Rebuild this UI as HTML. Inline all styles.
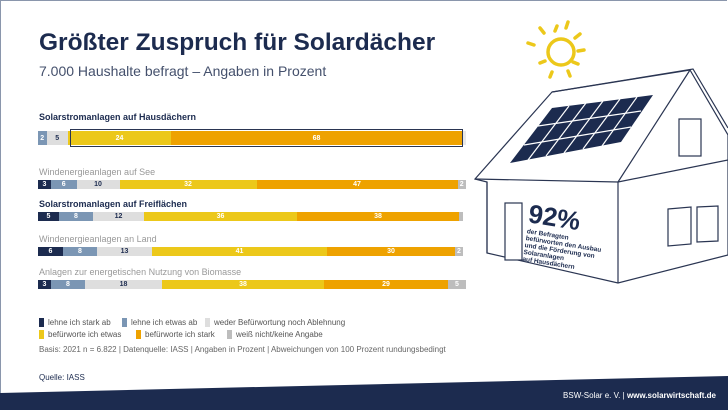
<!DOCTYPE html>
<html><head><meta charset="utf-8"><style>
body{margin:0;width:728px;height:410px;overflow:hidden;background:#fff;font-family:"Liberation Sans",sans-serif;}
.wrap{position:relative;width:728px;height:410px;}
.t{position:absolute;white-space:nowrap;}
.bar{position:absolute;left:38px;width:428px;display:flex;}
.bar div{height:100%;color:#fff;font-size:7px;font-weight:bold;display:flex;align-items:center;justify-content:center;}
.n{background:#1c2b4f}.s{background:#7b96b4}.g{background:#dedede;color:#1c2b4f!important}.y{background:#ecc81a}.o{background:#eea200}.k{background:#bdbdbd}
.lab{font-size:9px;color:#999;}
.lb{font-size:9px;color:#1c2b4f;font-weight:bold;}
.leg{font-size:8px;color:#555;display:flex;align-items:center;}
.leg i{display:inline-block;width:5px;height:9px;margin-right:4px;}
</style></head><body><div class="wrap">
<div style="position:absolute;left:0;top:0;width:727px;height:1px;background:#8a96ac"></div>
<div style="position:absolute;left:0;top:0;width:1px;height:400px;background:#8a96ac"></div>
<div class="t" style="left:39px;top:29px;font-size:24.5px;font-weight:bold;color:#1c2b4f">Größter Zuspruch für Solardächer</div>
<div class="t" style="left:39px;top:63px;font-size:14px;color:#44506c">7.000 Haushalte befragt – Angaben in Prozent</div>

<div class="t lb" style="left:39px;top:112px">Solarstromanlagen auf Hausdächern</div>
<div class="bar" style="top:131px;height:14px"><div class="s" style="width:8.5px">2</div><div class="g" style="width:21.5px">5</div><div class="y" style="width:103px">24</div><div class="o" style="width:291px">68</div><div style="width:4px;background:#e8e8e8"></div></div>
<div style="position:absolute;left:70px;top:129px;width:391px;height:16px;border:1px solid #2a3552"></div>

<div class="t lab" style="left:39px;top:167px">Windenergieanlagen auf See</div>
<div class="bar" style="top:180px;height:9px"><div class="n" style="width:13px">3</div><div class="s" style="width:25.5px">6</div><div class="g" style="width:43px">10</div><div class="y" style="width:137px">32</div><div class="o" style="width:201px">47</div><div class="k" style="width:8.5px">2</div></div>

<div class="t lb" style="left:39px;top:199px">Solarstromanlagen auf Freiflächen</div>
<div class="bar" style="top:212px;height:9px"><div class="n" style="width:21px">5</div><div class="s" style="width:34px">8</div><div class="g" style="width:51px">12</div><div class="y" style="width:153px">36</div><div class="o" style="width:162px">38</div><div class="k" style="width:4px"></div></div>

<div class="t lab" style="left:39px;top:234px">Windenergieanlagen an Land</div>
<div class="bar" style="top:247px;height:9px"><div class="n" style="width:25px">6</div><div class="s" style="width:34px">8</div><div class="g" style="width:55px">13</div><div class="y" style="width:175px">41</div><div class="o" style="width:128px">30</div><div class="k" style="width:8px">2</div></div>

<div class="t lab" style="left:39px;top:267px">Anlagen zur energetischen Nutzung von Biomasse</div>
<div class="bar" style="top:280px;height:9px"><div class="n" style="width:13px">3</div><div class="s" style="width:34px">8</div><div class="g" style="width:77px">18</div><div class="y" style="width:162px">38</div><div class="o" style="width:124px">29</div><div class="k" style="width:18px">5</div></div>

<div class="t leg" style="left:39px;top:318px"><i class="n"></i>lehne ich stark ab</div>
<div class="t leg" style="left:122px;top:318px"><i class="s"></i>lehne ich etwas ab</div>
<div class="t leg" style="left:205px;top:318px"><i class="g"></i>weder Befürwortung noch Ablehnung</div>
<div class="t leg" style="left:39px;top:330px"><i class="y"></i>befürworte ich etwas</div>
<div class="t leg" style="left:136px;top:330px"><i class="o"></i>befürworte ich stark</div>
<div class="t leg" style="left:227px;top:330px"><i class="k"></i>weiß nicht/keine Angabe</div>
<div class="t" style="left:39px;top:345px;font-size:8px;color:#666">Basis: 2021 n = 6.822 | Datenquelle: IASS | Angaben in Prozent | Abweichungen von 100 Prozent rundungsbedingt</div>
<div class="t" style="left:39px;top:373px;font-size:8px;color:#1c2b4f">Quelle: IASS</div>

<svg style="position:absolute;left:0;top:0" width="728" height="410">
<polygon points="0,393 728,376 728,410 0,410" fill="#1c2b4f"/>
<g stroke="#ecc81a" stroke-width="3.5" fill="none" stroke-linecap="round">
<circle cx="561" cy="52" r="13"/>
<line x1="557" y1="26" x2="555" y2="31"/><line x1="568" y1="22" x2="566" y2="28"/><line x1="580" y1="34" x2="575" y2="38"/><line x1="584" y1="50" x2="578" y2="51"/><line x1="578" y1="64" x2="573" y2="62"/><line x1="570" y1="76" x2="568" y2="71"/><line x1="550" y1="77" x2="552" y2="72"/><line x1="540" y1="63" x2="545" y2="61"/><line x1="528" y1="43" x2="534" y2="45"/><line x1="540" y1="28" x2="544" y2="33"/>
</g>
<g stroke="#2a3552" stroke-width="1.2" fill="#fff">
<polygon points="475,179 552,92 690,70 728,135 728,255 618,283 487,253 487,182"/>
<polyline fill="none" points="475,179 618,182 690,70"/>
<polyline fill="none" points="552,92 693,69 728,128"/>
<line x1="618" y1="182" x2="618" y2="283"/>
<line x1="487" y1="182" x2="487" y2="253"/>
<line x1="618" y1="182" x2="728" y2="160"/>
<rect x="505" y="203" width="17" height="57"/>
<rect x="679" y="119" width="22" height="37"/>
<polygon points="668,209 691,207 691,244 668,246"/>
<polygon points="697,207 718,206 718,241 697,242"/>
</g>
<polygon points="552,108 653,95 621,142 510,163" fill="#1c2b4f"/>
<g stroke="#fff" stroke-width="1.2">
<line x1="538" y1="126" x2="641" y2="111"/><line x1="524" y1="145" x2="631" y2="127"/>
<line x1="569" y1="106" x2="528" y2="160"/><line x1="586" y1="103" x2="546" y2="156"/><line x1="603" y1="101" x2="564" y2="153"/><line x1="620" y1="99" x2="583" y2="149"/><line x1="637" y1="97" x2="602" y2="146"/>
</g>
<g transform="rotate(9 528 205)" fill="#1c2b4f" font-family="Liberation Sans, sans-serif" font-weight="bold">
<text x="530" y="222" font-size="26">92%</text>
<text x="531" y="233" font-size="6.5">der Befragten</text>
<text x="531" y="240" font-size="6.5">befürworten den Ausbau</text>
<text x="531" y="247" font-size="6.5">und die Förderung von</text>
<text x="531" y="254" font-size="6.5">Solaranlagen</text>
<text x="531" y="261" font-size="6.5">auf Hausdächern</text>
</g>
<text x="716" y="398" text-anchor="end" font-size="8" fill="#fff" font-family="Liberation Sans, sans-serif">BSW-Solar e. V. | <tspan font-weight="bold">www.solarwirtschaft.de</tspan></text>
</svg>
</div></body></html>
